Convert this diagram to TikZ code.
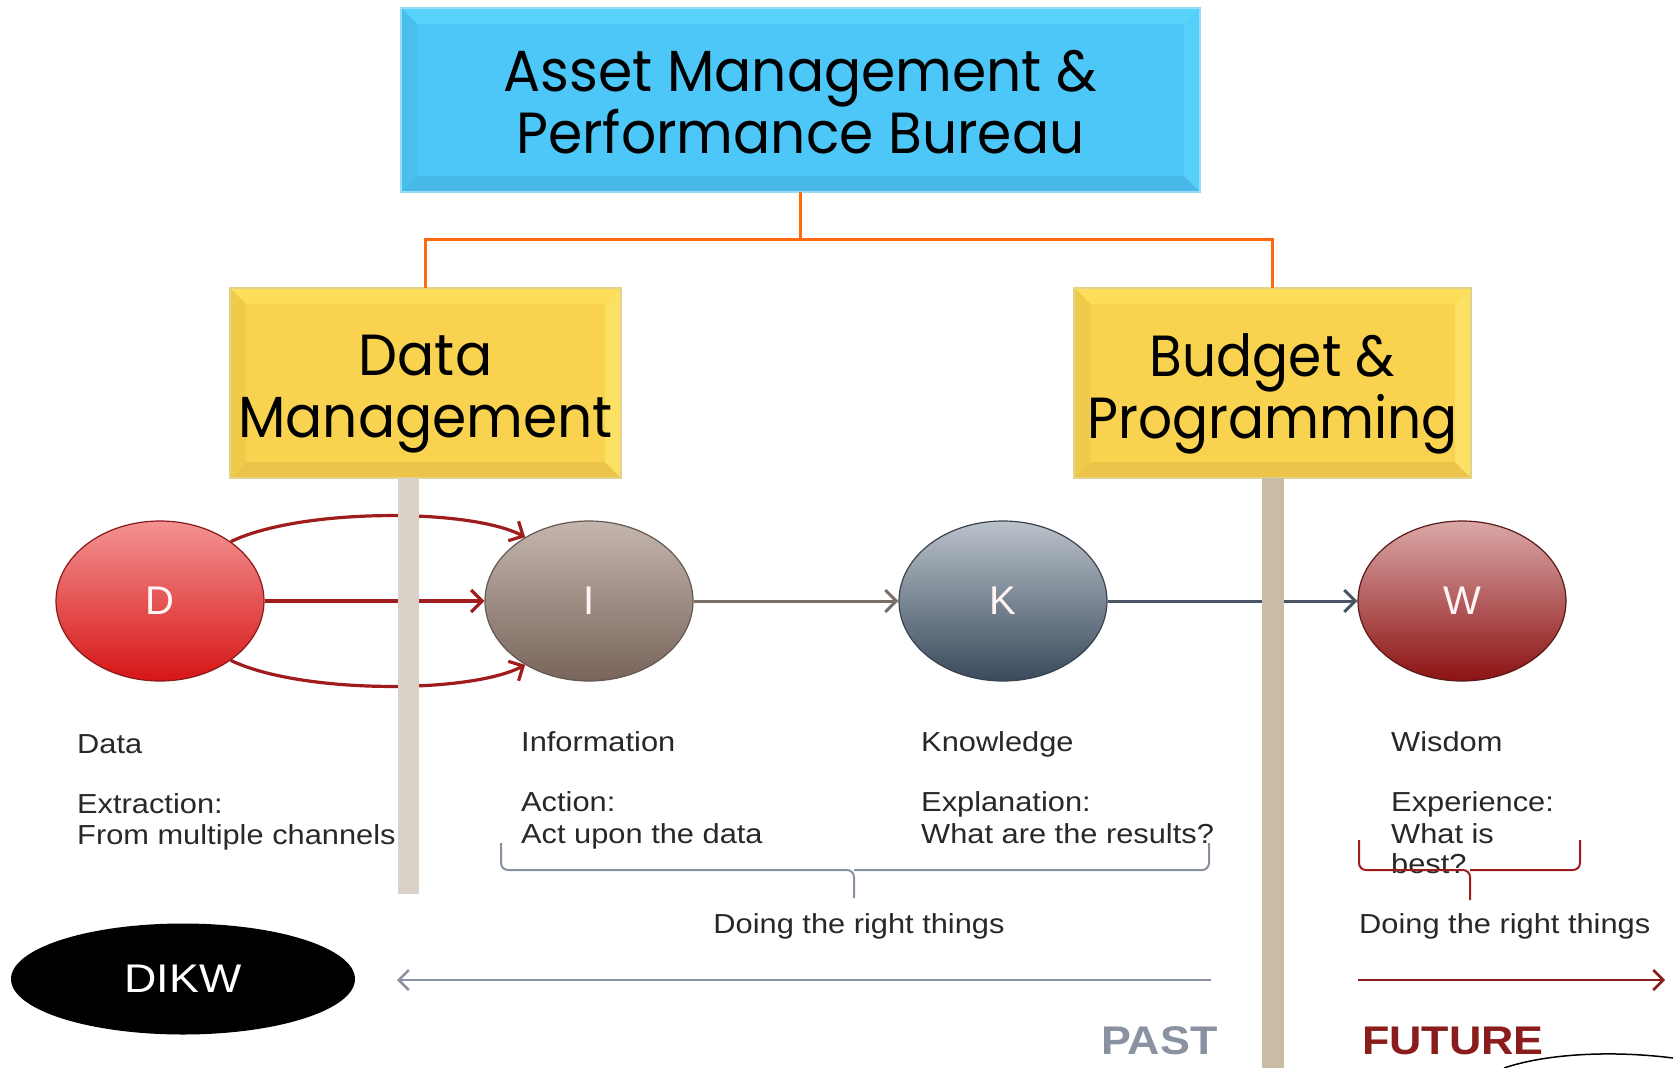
\documentclass[tikz,border=0pt]{standalone}
\usepackage{graphicx}
\usepackage{fontspec}
\setmainfont{Liberation Sans}
\newfontfamily\boxfont{Poppins}
\usetikzlibrary{shapes.geometric,arrows.meta}
\definecolor{ambase}{RGB}{77,199,248}
\definecolor{amtop}{RGB}{88,212,251}
\definecolor{ambot}{RGB}{72,184,232}
\definecolor{amleft}{RGB}{74,190,238}
\definecolor{amright}{RGB}{86,208,250}
\definecolor{amedge}{RGB}{150,222,245}
\definecolor{ybase}{RGB}{249,211,79}
\definecolor{ytop}{RGB}{253,221,90}
\definecolor{ybot}{RGB}{236,196,74}
\definecolor{yleft}{RGB}{240,202,74}
\definecolor{yright}{RGB}{253,225,100}
\definecolor{yedge}{RGB}{226,210,140}
\definecolor{orangeline}{RGB}{255,106,16}
\definecolor{Dtop}{RGB}{244,146,146}
\definecolor{Dbot}{RGB}{214,22,22}
\definecolor{Dedge}{RGB}{138,26,26}
\definecolor{Itop}{RGB}{196,182,174}
\definecolor{Ibot}{RGB}{120,100,90}
\definecolor{Iedge}{RGB}{100,88,82}
\definecolor{Ktop}{RGB}{186,194,202}
\definecolor{Kbot}{RGB}{58,74,92}
\definecolor{Kedge}{RGB}{58,66,78}
\definecolor{Wtop}{RGB}{218,168,168}
\definecolor{Wbot}{RGB}{140,18,18}
\definecolor{Wedge}{RGB}{90,26,26}
\definecolor{arrred}{RGB}{160,28,28}
\definecolor{arrgray}{RGB}{122,110,104}
\definecolor{arrslate}{RGB}{74,86,102}
\definecolor{barL}{RGB}{218,210,200}
\definecolor{barR}{RGB}{201,189,166}
\definecolor{bracegray}{RGB}{136,144,160}
\definecolor{pastgray}{RGB}{138,146,162}
\definecolor{futred}{RGB}{139,28,28}
\definecolor{txt}{RGB}{40,40,40}
\newcommand{\hstretch}[1]{\scalebox{1.12}[1]{#1}}
\newcommand{\hsquash}[1]{\scalebox{0.95}[1]{#1}}
\newcommand{\hsquashb}[1]{\scalebox{0.92}[1]{#1}}
\begin{document}
\begin{tikzpicture}[x=1pt,y=-1pt,
  bevel/.style n args={4}{path picture={
    \fill[#1] (path picture bounding box.north west) -- (path picture bounding box.north east)
      -- ([xshift=-16pt,yshift=-16pt]path picture bounding box.north east)
      -- ([xshift=16pt,yshift=-16pt]path picture bounding box.north west) -- cycle;
    \fill[#2] (path picture bounding box.south west) -- (path picture bounding box.south east)
      -- ([xshift=-16pt,yshift=16pt]path picture bounding box.south east)
      -- ([xshift=16pt,yshift=16pt]path picture bounding box.south west) -- cycle;
    \fill[#3] (path picture bounding box.north west) -- (path picture bounding box.south west)
      -- ([xshift=16pt,yshift=16pt]path picture bounding box.south west)
      -- ([xshift=16pt,yshift=-16pt]path picture bounding box.north west) -- cycle;
    \fill[#4] (path picture bounding box.north east) -- (path picture bounding box.south east)
      -- ([xshift=-16pt,yshift=16pt]path picture bounding box.south east)
      -- ([xshift=-16pt,yshift=-16pt]path picture bounding box.north east) -- cycle;
  }},
  box/.style={rectangle, inner sep=0, outer sep=0, line width=1.5},
  boxtext/.style={inner sep=0, align=center, font=\boxfont\fontsize{58}{62}\selectfont},
  bluebox/.style={box, fill=ambase, draw=amedge, bevel={amtop}{ambot}{amleft}{amright}},
  yelbox/.style={box, fill=ybase, draw=yedge, bevel={ytop}{ybot}{yleft}{yright}},
  conn/.style={draw=orangeline, line width=3},
  circ/.style={ellipse, minimum width=208, minimum height=160, inner sep=0, line width=1.2,
    font=\fontsize{40}{48}\selectfont, text=white!96!red},
  redarr/.style={draw=arrred, line width=3.2, -{Straight Barb[length=11pt,width=22pt]}},
  grayarr/.style={draw=arrgray, line width=3, -{Straight Barb[length=11pt,width=22pt]}},
  slatearr/.style={draw=arrslate, line width=3, -{Straight Barb[length=11pt,width=22pt]}},
  lbl/.style={anchor=base west, inner sep=0, text=txt, font=\fontsize{27.5}{33}\selectfont},
  bracestyle/.style={draw=bracegray, line width=2, rounded corners=7},
  redbrace/.style={draw=arrred, line width=2, rounded corners=7},
  pastarr/.style={draw=pastgray, line width=2.5, -{Straight Barb[length=10pt,width=20pt]}},
  futarr/.style={draw=futred, line width=2.5, -{Straight Barb[length=10pt,width=20pt]}},
  bigword/.style={anchor=base west, inner sep=0, font=\bfseries\fontsize{40}{48}\selectfont}
]
\useasboundingbox (0,0) rectangle (1673,1068);
\fill[white] (0,0) rectangle (1673,1068);

% org chart boxes
\node[bluebox, minimum width=799, minimum height=184] (amp) at (800.5,100) {};
\node[boxtext] (ampText) at (800.5,102)
  {\hsquash{Asset Management \&}\\\hsquash{Performance Bureau}};
\node[yelbox, minimum width=391, minimum height=190] (dm) at (425.5,383) {};
\node[boxtext] (dmText) at (425.5,394) {\hsquash{Data}\\\hsquash{Management}};
\node[yelbox, minimum width=397, minimum height=190] (bp) at (1272.5,383) {};
\node[boxtext] (bpText) at (1272.5,394) {\hsquashb{Budget \&}\\\hsquashb{Programming}};
\coordinate (junc) at (800.5,239);
\draw[conn] (amp.south) -- (junc) -| (dm.north);
\draw[conn] (junc) -| (bp.north);

% DIKW circles
\node[circ, top color=Dtop, bottom color=Dbot, draw=Dedge] (D) at (160,601) {D};
\node[circ, top color=Itop, bottom color=Ibot, draw=Iedge] (I) at (589,601) {I};
\node[circ, top color=Ktop, bottom color=Kbot, draw=Kedge] (K) at (1003,601) {K};
\node[circ, top color=Wtop, bottom color=Wbot, draw=Wedge] (W) at (1462,601) {W};

\draw[redarr] (D.east) -- (I.west);
\draw[redarr] (D.40) .. controls (300,508) and (470,508) .. (I.135);
\draw[redarr] (D.-40) .. controls (300,694) and (470,694) .. (I.-135);
\draw[grayarr] (I.east) -- (K.west);
\draw[slatearr] (K.east) -- (W.west);

% labels
\node[lbl] (tData) at (77,753) {\hstretch{Data}};
\node[lbl] (tExt) at (77,813) {\hstretch{Extraction:}};
\node[lbl] (tFrom) at (77,844) {\hstretch{From multiple channels}};
\node[lbl] (tInf) at (521,751) {\hstretch{Information}};
\node[lbl] (tAct) at (521,811) {\hstretch{Action:}};
\node[lbl] (tAup) at (521,843) {\hstretch{Act upon the data}};
\node[lbl] (tKno) at (921,751) {\hstretch{Knowledge}};
\node[lbl] (tExp) at (921,811) {\hstretch{Explanation:}};
\node[lbl] (tWat) at (921,843) {\hstretch{What are the results?}};
\node[lbl] (tWis) at (1391,751) {\hstretch{Wisdom}};
\node[lbl] (tExe) at (1391,811) {\hstretch{Experience:}};
\node[lbl] (tWis2) at (1391,843) {\hstretch{What is}};
\node[lbl] (tBest) at (1391,873) {\hstretch{best?}};

% braces
\coordinate (bL) at (501,843);
\coordinate (bR) at (1209,843);
\coordinate (bMid) at (854,870);
\coordinate (bTip) at (854,898);
\draw[bracestyle] (bL) |- (bMid) -- (bTip);
\draw[bracestyle] (bR) |- (bMid);
\coordinate (rbL) at (1359,840);
\coordinate (rbR) at (1580,840);
\coordinate (rbMid) at (1470,870);
\coordinate (rbTip) at (1470,900);
\draw[redbrace] (rbL) |- (rbMid) -- (rbTip);
\draw[redbrace] (rbR) |- (rbMid);

\node[anchor=base, inner sep=0, text=txt, font=\fontsize{27.5}{33}\selectfont] (doing1) at (859,933) {\hstretch{Doing the right things}};
\node[lbl] (doing2) at (1359,933) {\hstretch{Doing the right things}};

% vertical bars
\fill[barL] (398,478) rectangle (419,894);
\fill[barR] (1262,478) rectangle (1284,1068);

% bottom row
\node[ellipse, fill=black, minimum width=344, minimum height=111, inner sep=0, text=white,
  font=\fontsize{40}{48}\selectfont] (dikw) at (183,979) {\hstretch{DIKW}};
\coordinate (pastL) at (397,980);
\coordinate (pastR) at (1211,980);
\draw[pastarr] (pastR) -- (pastL);
\coordinate (futL) at (1358,980);
\coordinate (futR) at (1665,980);
\draw[futarr] (futL) -- (futR);
\node[bigword, text=pastgray] (past) at (1101,1054) {\hstretch{PAST}};
\node[bigword, text=futred] (future) at (1362,1054) {\hstretch{FUTURE}};
\draw[line width=1.5] (1504,1068) .. controls (1545,1054) and (1610,1050) .. (1673,1058);
\end{tikzpicture}
\end{document}
